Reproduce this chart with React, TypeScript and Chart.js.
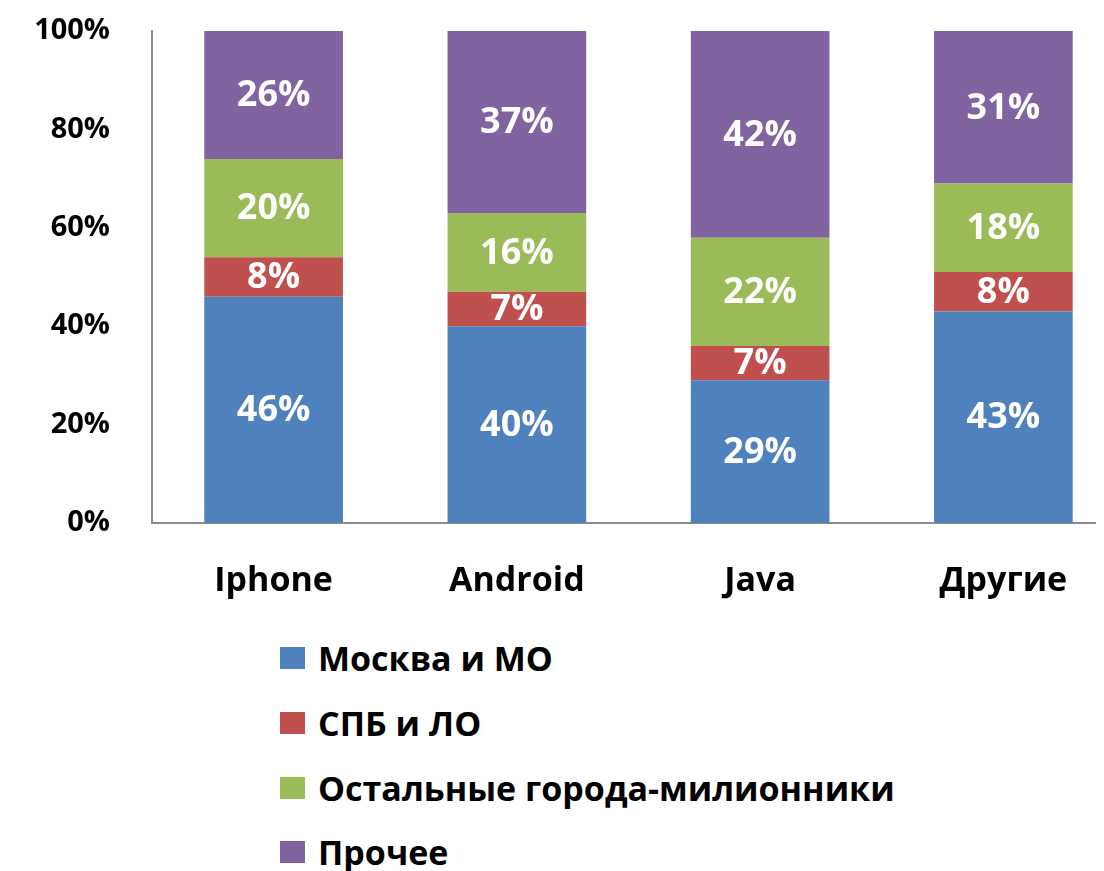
import React, { useEffect, useRef } from "react";
import { Chart, registerables } from "chart.js";

Chart.register(...registerables);

const categories = ["Iphone", "Android", "Java", "Другие"];
const seriesNames = ["Москва и МО", "СПБ и ЛО", "Остальные города-милионники", "Прочее"];
const moscow = [46, 40, 29, 43];
const spb = [8, 7, 7, 8];
const millionCities = [20, 16, 22, 18];
const other = [26, 37, 42, 31];
const seriesValues = [moscow, spb, millionCities, other];
const seriesColors = ["#4F81BD", "#C0504D", "#9BBB59", "#8064A2"];
const yTicks = [0, 20, 40, 60, 80, 100];

const FONT = "'Open Sans', 'DejaVu Sans', sans-serif";

const labelPlugin = {
  id: "segLabels",
  afterDatasetsDraw(chart: any) {
    const ctx = chart.ctx;
    ctx.save();
    ctx.fillStyle = "#ffffff";
    ctx.font = `bold 36px ${FONT}`;
    ctx.textAlign = "center";
    ctx.textBaseline = "middle";
    chart.data.datasets.forEach((ds: any, di: number) => {
      const meta = chart.getDatasetMeta(di);
      meta.data.forEach((bar: any, i: number) => {
        const p = bar.getCenterPoint();
        ctx.fillText(ds.data[i] + "%", p.x, p.y + 1);
      });
    });
    ctx.restore();
  },
};

export default function App() {
  const ref = useRef<HTMLCanvasElement>(null);
  useEffect(() => {
    if (!ref.current) return;
    const chart = new Chart(ref.current, {
      type: "bar",
      data: {
        labels: categories,
        datasets: seriesNames.map((name, i) => ({
          label: name,
          data: seriesValues[i],
          backgroundColor: seriesColors[i],
          borderWidth: 0,
          barPercentage: 0.57,
          categoryPercentage: 1,
        })),
      },
      options: {
        responsive: false,
        animation: false,
        layout: { padding: { top: 23, right: 3, bottom: 0, left: 0 } },
        plugins: { legend: { display: false }, tooltip: { enabled: false } },
        scales: {
          x: {
            stacked: true,
            grid: { display: false, drawTicks: false },
            border: { display: true, color: "#8c8c8c", width: 2 },
            ticks: { padding: 38, color: "#000", font: { family: FONT, weight: "bold", size: 34 } },
            afterFit: (s: any) => {
              s.height = 97;
              s.paddingLeft = 0;
              s.paddingRight = 0;
            },
          },
          y: {
            stacked: true,
            min: 0,
            max: 100,
            grid: { display: false, drawTicks: false },
            border: { display: true, color: "#8c8c8c", width: 2 },
            afterBuildTicks: (s: any) => { s.ticks = yTicks.map((v) => ({ value: v })); },
            ticks: {
              padding: 42,
              color: "#000",
              font: { family: FONT, weight: "bold", size: 29 },
              callback: (v: any) => v + "%",
            },
            afterFit: (s: any) => {
              s.width = 144;
              s.paddingTop = 0;
              s.paddingBottom = 0;
            },
          },
        },
      },
      plugins: [labelPlugin],
    });
    return () => chart.destroy();
  }, []);

  return (
    <div style={{ width: 1096, overflow: "hidden" }}>
      <div style={{ position: "relative", width: 1120, height: 863 }}>
        <canvas ref={ref} width={1120} height={612} style={{ display: "block" }} />
        <div style={{ position: "absolute", left: 272, top: 618 }}>
          {seriesNames.map((name, i) => (
            <div key={name} style={{ display: "flex", alignItems: "center", height: 64.7 }}>
              <span style={{ display: "inline-block", width: 25, height: 22, background: seriesColors[i], marginRight: 13 }} />
              <span style={{ fontFamily: FONT, fontWeight: "bold", fontSize: 34, color: "#000", whiteSpace: "nowrap", lineHeight: 1 }}>{name}</span>
            </div>
          ))}
        </div>
      </div>
    </div>
  );
}
